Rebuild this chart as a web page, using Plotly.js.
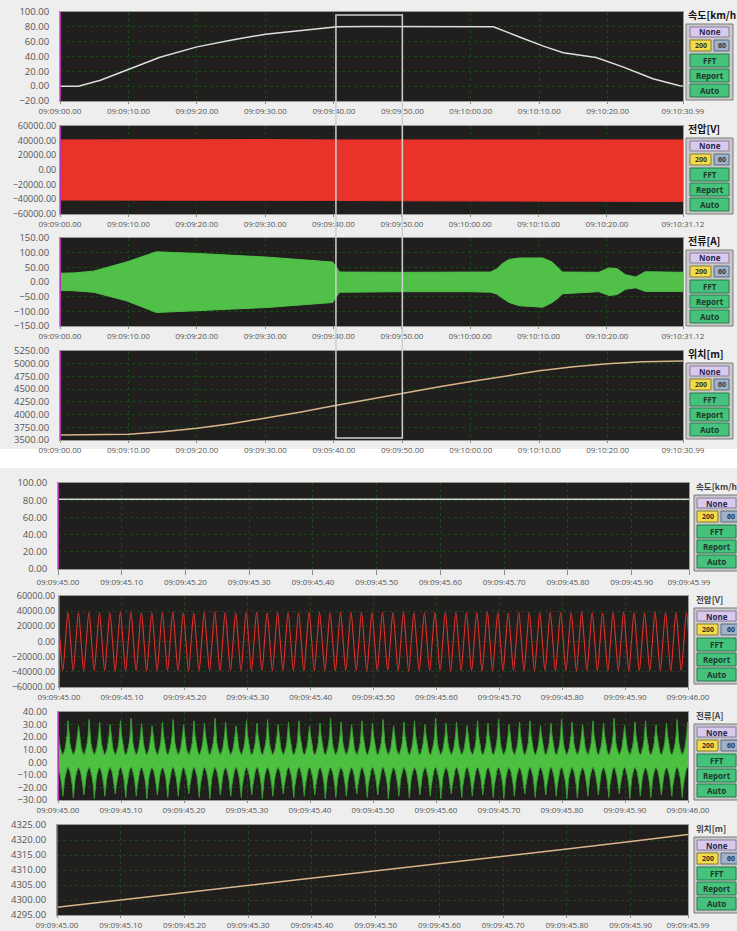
<!DOCTYPE html>
<html><head><meta charset="utf-8">
<script src="https://cdn.plot.ly/plotly-3.0.1.min.js"></script>
<style>html,body{margin:0;padding:0;background:#eeeeee}#chart{width:737px;height:931px}</style>
</head><body><div id="chart"></div>
<script>
// ---------- DATA ----------
// Overview (seconds after 09:09:00)
const speedT = [0,2.7,5.9,10,14.6,20,25.5,30,35,40.5,45,50,55,60,63.3,67.2,70.6,73.5,78.3,82.2,86.6,90.5,90.99];
const speedV = [0,0,8,23,39,53,63,70,75,80,80.5,80.5,80.5,80.5,80,66,54,45,38.7,26,10,0.5,0.3];

const voltT     = [0,10,20,30,40,50,60,70,80,91.12];
const voltUpper = [41000,41500,41000,41500,41000,41000,41500,41000,41000,41000];
const voltLower = [-41000,-41500,-41000,-41500,-41500,-42000,-42500,-43000,-43000,-43000];

const curT     = [0,2,4.9,9.7,14.1,20.4,30.2,39.9,40.4,40.9,50,60,63,63.9,64.7,65.7,67.2,70.6,72,73,73.5,78.8,80.3,81.5,82.7,84.2,85.6,91.12];
const curUpper = [30,31,37,68,103,97,85,68,51,34,33,33,34,45,63,77,82,82,68,45,34,33,48,45,25,17,35,33];
const curLower = [-29,-30,-35,-64,-104,-98,-87,-70,-50,-35,-33,-33,-35,-41,-55,-70,-81,-86,-70,-52,-40,-33,-46,-43,-25,-20,-32,-32];

const posT = [0,5,10,15,20,25,30,35,40,45,50,55,60,65,70,75,80,85,90.99];
const posV = [3600,3603,3612,3660,3730,3820,3926,4045,4174,4297,4420,4535,4650,4760,4860,4940,5000,5040,5055];

const selRange = [40.3, 50.0];

// Detail (seconds after 09:09:45)
const speedBT = [0,0.25,0.5,0.75,0.99];
const speedBV = [81,81,81,81,81];

// 60 Hz voltage: per-cycle peaks and troughs
const vPeaks = [38000,38500,37800,38600,38200,37900,38400,38700,38100,37800,
 38300,38600,38000,37700,38400,38800,38200,37900,38500,38100,
 37800,38600,38300,38000,38700,38200,37900,38400,38600,38100,
 37800,38500,38200,38800,38000,37900,38400,38600,38100,37800,
 38300,38700,38000,37900,38500,38200,37800,38600,38300,38000,
 38700,38100,37900,38400,38600,38200,37800,38500,38100,38300,38000];
const vTroughs = [-38600,-38200,-38900,-38400,-38000,-38700,-38500,-38100,-38800,-38300,
 -38000,-38600,-38900,-38200,-38400,-38700,-38100,-38500,-38800,-38300,
 -38600,-38000,-38400,-38900,-38200,-38500,-38700,-38100,-38300,-38800,
 -38400,-38000,-38600,-38900,-38200,-38500,-38100,-38700,-38300,-38600,
 -38900,-38200,-38400,-38000,-38700,-38500,-38100,-38800,-38300,-38600,
 -38200,-38900,-38400,-38000,-38700,-38500,-38100,-38300,-38800,-38400,-38600];

// 60 Hz current: per-cycle positive spikes and negative spikes,
// plus the upper / lower edge of the dense band within one cycle (12 samples, starting at the positive spike)
const iPeaks = [31,33,29,34,32,30,33,35,31,29,
 32,34,30,33,31,35,32,29,33,31,
 34,30,32,33,29,31,35,32,30,33,
 31,34,29,32,33,30,35,31,32,29,
 33,31,34,30,32,33,29,31,34,32,
 30,33,31,35,29,32,33,30,31,34,32];
const iTroughs = [-27,-28,-26,-29,-27,-25,-28,-27,-29,-26,
 -28,-27,-25,-28,-29,-26,-27,-28,-26,-29,
 -27,-25,-28,-27,-26,-29,-28,-27,-25,-28,
 -26,-29,-27,-28,-26,-27,-29,-25,-28,-27,
 -26,-28,-29,-27,-25,-28,-26,-27,-29,-28,
 -27,-26,-28,-25,-29,-27,-28,-26,-27,-28,-27];
const iUpperEdge = [null,22,16,12,9,7,6,7,9,12,16,22];   // null = the spike
const iLowerEdge = [-4,-5,-7,-10,-14,-19,null,-19,-14,-10,-7,-5];

const posBT = [0,0.1,0.2,0.3,0.4,0.5,0.6,0.7,0.8,0.9,0.99];
const posBV = [4297.6,4300.0,4302.5,4305.0,4307.3,4309.8,4312.2,4314.6,4317.0,4319.5,4321.8];

// Tick labels
const topTickVals = [0,10,20,30,40,50,60,70,80];
const topTickText = ['09:09:00.00','09:09:10.00','09:09:20.00','09:09:30.00','09:09:40.00','09:09:50.00','09:10:00.00','09:10:10.00','09:10:20.00'];
const topEndA = [90.99,'09:10:30.99'];
const topEndB = [91.12,'09:10:31.12'];
const botTickVals = [0,0.1,0.2,0.3,0.4,0.5,0.6,0.7,0.8,0.9];
const botTickText = ['09:09:45.00','09:09:45.10','09:09:45.20','09:09:45.30','09:09:45.40','09:09:45.50','09:09:45.60','09:09:45.70','09:09:45.80','09:09:45.90'];
const botEndA = [0.99,'09:09:45.99'];
const botEndB = [1.0,'09:09:46.00'];

const labels = ['속도[km/h','전압[V]','전류[A]','위치[m]'];

// ---------- LAYOUT ----------
const W=737,H=931;
const P = [
 {l:60,r:683,t:12,b:101,tl:2},
 {l:60,r:683,t:126,b:214,tl:2},
 {l:60,r:683,t:238,b:326,tl:2},
 {l:60,r:683,t:351,b:440,tl:2},
 {l:58,r:689,t:483,b:569,tl:5},
 {l:59,r:688,t:596,b:687,tl:2},
 {l:58,r:688,t:712,b:800,tl:2},
 {l:57,r:688,t:825,b:915,tl:2}
];
const yCfg = [
 {range:[-20,100],dtick:20},{range:[-60000,60000],dtick:20000},{range:[-150,150],dtick:50},{range:[3500,5250],dtick:250},
 {range:[0,100],dtick:20},{range:[-60000,60000],dtick:20000},{range:[-30,40],dtick:10},{range:[4295,4325],dtick:5}
];
const xEnds = [topEndA,topEndB,topEndB,topEndA,botEndA,botEndB,botEndB,botEndA];

const px = v => v/W, py = v => 1 - v/H;
const GRID = '#1a471a';
const layout = {
 width:W,height:H,margin:{l:0,r:0,t:0,b:0,pad:0},
 paper_bgcolor:'#eeeeee',plot_bgcolor:'#211e1e',showlegend:false,
 shapes:[],annotations:[]
};
const sfx = i => i===0?'':String(i+1);
P.forEach((p,i)=>{
 const top = i<4;
 const e = xEnds[i];
 const tv = (top?topTickVals:botTickVals).concat([e[0]]);
 const tt = (top?topTickText:botTickText).concat([e[1]]);
 layout['xaxis'+sfx(i)] = {
  domain:[px(p.l),px(p.r)], range:[0,e[0]], anchor:'y'+sfx(i),
  tickmode:'array', tickvals:tv, ticktext:tt,
  showgrid:true, gridcolor:GRID, griddash:'dot', gridwidth:1,
  zeroline:false, showline:true, linecolor:'#9a9a9a', linewidth:1, mirror:true,
  ticks:'outside', ticklen:p.tl, tickcolor:'#8a8a8a',
  tickfont:{family:'Open Sans',size:8,color:'#555'}, fixedrange:true
 };
 const big = yCfg[i].dtick===20000;
 layout['yaxis'+sfx(i)] = {
  domain:[py(p.b),py(p.t)], range:yCfg[i].range, anchor:'x'+sfx(i),
  tickmode:'linear', tick0:yCfg[i].range[0], dtick:yCfg[i].dtick, tickformat:'.2f',
  showgrid:true, gridcolor:GRID, griddash:'dot', gridwidth:1,
  zeroline:false, showline:true, linecolor:'#9a9a9a', linewidth:1, mirror:true,
  ticks:'', ticklabelstandoff:big?1:8,
  tickfont:{family:'Open Sans',size:big?9:9.5,color:'#555'}, fixedrange:true
 };
 layout.shapes.push({type:'line',xref:'x'+sfx(i),yref:'y'+sfx(i)+' domain',x0:0,x1:0,y0:0,y1:1,line:{color:'#b030b0',width:2}});
 const g = top ? {bx0:686,bx1:733,x0:690,x1:729,a0:690,a1:711,b0:714,b1:729,tx:686,fs:10,fc:'#111'}
               : {bx0:694,bx1:745,x0:697,x1:736,a0:697,a1:718,b0:721,b1:740,tx:694,fs:8.5,fc:'#444'};
 const bt = p.t + 12;
 layout.annotations.push({xref:'paper',yref:'paper',x:px(g.tx),y:py(p.t+3),xanchor:'left',yanchor:'middle',showarrow:false,
   text:'<b>'+labels[i%4]+'</b>',font:{family:'Noto Sans CJK KR',size:g.fs,color:g.fc}});
 const rect=(x0,x1,y0,y1,fill,line)=>layout.shapes.push({type:'rect',xref:'paper',yref:'paper',x0:px(x0),x1:px(x1),y0:py(y1),y1:py(y0),fillcolor:fill,line:{color:line,width:1},layer:'above'});
 const txt=(x,y,s,size,color)=>layout.annotations.push({xref:'paper',yref:'paper',x:px(x),y:py(y),xanchor:'center',yanchor:'middle',showarrow:false,text:'<b>'+s+'</b>',font:{family:'Noto Sans',size:size,color:color}});
 rect(g.bx0,g.bx1,bt,bt+76,'#c9c9c9','#7a7a7a');
 rect(g.x0,g.x1,bt+3,bt+13,'#d9c9ec','#8a7aa0');   txt((g.x0+g.x1)/2,bt+8,'None',8,'#2b2750');
 rect(g.a0,g.a1,bt+16,bt+27,'#f2dc4c','#8a7a30');  txt((g.a0+g.a1)/2,bt+21.5,'200',7,'#3a3020');
 rect(g.b0,g.b1,bt+16,bt+27,'#9fb2c8','#5a6a80');  txt((g.b0+g.b1)/2,bt+21.5,'60',7,'#2a3650');
 rect(g.x0,g.x1,bt+30,bt+43,'#45c27c','#2a7a4a');  txt((g.x0+g.x1)/2,bt+36.5,'FFT',8,'#1d3a2a');
 rect(g.x0,g.x1,bt+45,bt+58,'#45c27c','#2a7a4a');  txt((g.x0+g.x1)/2,bt+51.5,'Report',8,'#1d3a2a');
 rect(g.x0,g.x1,bt+60,bt+73,'#45c27c','#2a7a4a');  txt((g.x0+g.x1)/2,bt+66.5,'Auto',8,'#1d3a2a');
});
layout.shapes.unshift({type:'rect',xref:'paper',yref:'paper',x0:0,x1:1,y0:py(468),y1:py(449),fillcolor:'#ffffff',line:{width:0},layer:'below'});
layout.shapes.push({type:'rect',xref:'x',yref:'paper',x0:selRange[0],x1:selRange[1],y0:py(438),y1:py(15),fillcolor:'rgba(0,0,0,0)',line:{color:'#cfcfcf',width:1.5},layer:'above'});

// ---------- TRACES ----------
const poly = (t,up,lo) => ({x:t.concat(t.slice().reverse()), y:up.concat(lo.slice().reverse())});
const vp = poly(voltT,voltUpper,voltLower);
const cp = poly(curT,curUpper,curLower);

const vY = [];
vPeaks.forEach((pk,k)=>{ vY.push(pk,0,vTroughs[k],0); });
const iUp = [], iLo = [];
iPeaks.forEach((pk,k)=>{
  iUpperEdge.forEach(v=>iUp.push(v===null?pk:v));
  iLowerEdge.forEach(v=>iLo.push(v===null?iTroughs[k]:v));
});

const data = [
 {x:speedT,y:speedV,xaxis:'x',yaxis:'y',mode:'lines',line:{color:'#dedede',width:1.5},hoverinfo:'skip'},
 {x:vp.x,y:vp.y,xaxis:'x2',yaxis:'y2',mode:'lines',fill:'toself',fillcolor:'#e8322a',line:{color:'#e8322a',width:1},hoverinfo:'skip'},
 {x:cp.x,y:cp.y,xaxis:'x3',yaxis:'y3',mode:'lines',fill:'toself',fillcolor:'#50c048',line:{color:'#50c048',width:1},hoverinfo:'skip'},
 {x:posT,y:posV,xaxis:'x4',yaxis:'y4',mode:'lines',line:{color:'#d9b58c',width:1.5},hoverinfo:'skip'},
 {x:speedBT,y:speedBV,xaxis:'x5',yaxis:'y5',mode:'lines',line:{color:'#d4d4d4',width:1.5},hoverinfo:'skip'},
 {y:vY,x0:-0.0024,dx:1/240,xaxis:'x6',yaxis:'y6',mode:'lines',line:{color:'#e0302a',width:1.1,shape:'spline'},hoverinfo:'skip'},
 {y:iLo,x0:-0.0007,dx:1/720,xaxis:'x7',yaxis:'y7',mode:'lines',line:{color:'#3a9a34',width:1},hoverinfo:'skip'},
 {y:iUp,x0:-0.0007,dx:1/720,xaxis:'x7',yaxis:'y7',mode:'lines',fill:'tonexty',fillcolor:'#4cc040',line:{color:'#3a9a34',width:1},hoverinfo:'skip'},
 {x:posBT,y:posBV,xaxis:'x8',yaxis:'y8',mode:'lines',line:{color:'#d9b58c',width:1.5},hoverinfo:'skip'}
];

Plotly.newPlot('chart',data,layout,{staticPlot:true,displayModeBar:false});
</script></body></html>
